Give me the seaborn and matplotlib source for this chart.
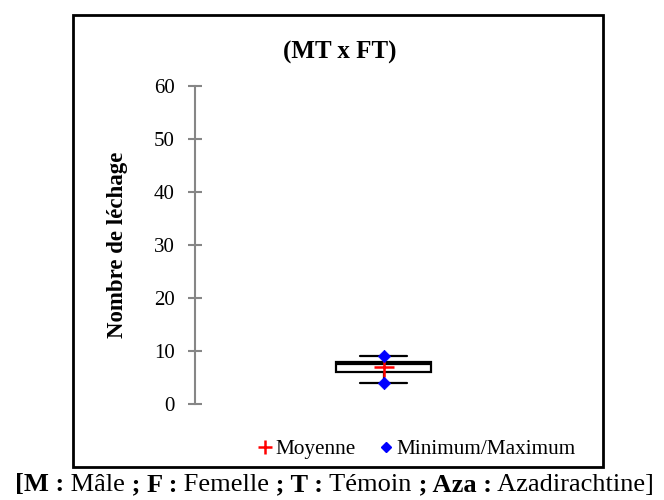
import matplotlib
matplotlib.use("Agg")
import numpy as np
import pandas as pd
import matplotlib.pyplot as plt
from matplotlib.lines import Line2D
from matplotlib.patches import Rectangle
import seaborn as sns

# one couple type, number of lickings per couple
cross = "MT x FT"
licking_counts = [4, 6, 6, 7, 8, 8, 8, 9]
y_ticks = [0, 10, 20, 30, 40, 50, 60]
legend_labels = ["Moyenne", "Minimum/Maximum"]
caption_parts = [("[M :", "bold"), (" Mâle", "normal"), (" ; F :", "bold"),
                 (" Femelle", "normal"), (" ; T :", "bold"), (" Témoin", "normal"),
                 (" ; Aza :", "bold"), (" Azadirachtine]", "normal")]

sns.set_theme(style="white")
plt.rcParams["font.family"] = ["Liberation Serif", "DejaVu Serif"]
plt.rcParams["text.color"] = "black"
plt.rcParams["axes.labelcolor"] = "black"

df = pd.DataFrame({"couple": cross, "count": licking_counts})

fig = plt.figure(figsize=(6.64, 5), dpi=100)
ax = fig.add_axes([195 / 664, 1 - 404 / 500, (572 - 195) / 664, 318 / 500])

sns.boxplot(data=df, x="couple", y="count", ax=ax, width=0.252, whis=(0, 100),
            color="white", linecolor="black", linewidth=1.6, fliersize=0)

mean_val = np.mean(licking_counts)
sns.scatterplot(x=[cross], y=[mean_val], ax=ax, marker="+", color="red",
                s=190, linewidth=1.8, zorder=5)
sns.scatterplot(x=[cross, cross], y=[min(licking_counts), max(licking_counts)], ax=ax,
                marker="D", color="blue", s=40, edgecolor="blue", zorder=6)

gray = "#868686"
ax.set_ylim(0, 60)
ax.set_yticks(y_ticks)
ax.set_xlim(-0.5, 0.5)
for side in ["top", "right", "bottom"]:
    ax.spines[side].set_visible(False)
ax.spines["left"].set_color(gray)
ax.spines["left"].set_linewidth(1.5)
ax.tick_params(axis="y", direction="inout", length=9.5, width=1.5, color=gray,
               labelsize=15, labelcolor="black", pad=10, left=True)
ax.tick_params(axis="x", bottom=False, labelbottom=False)
ax.set_xlabel("")
ax.set_ylabel("")

fig.text(118 / 664, 0.5 * (1 - 404 / 500) + 0.5 * (1 - 86 / 500), "Nombre de léchage",
         rotation=90, ha="center", va="center", fontsize=16.5, fontweight="bold")
fig.text(340 / 664, 1 - 52 / 500, "(MT x FT)", ha="center", va="center",
         fontsize=18, fontweight="bold")

handles = [Line2D([], [], marker="+", color="red", linestyle="none", markersize=10, markeredgewidth=1.8),
           Line2D([], [], marker="D", color="blue", linestyle="none", markersize=5)]
fig.legend(handles, legend_labels, loc="center", bbox_to_anchor=(416 / 664, 1 - 449 / 500),
           ncol=2, frameon=False, fontsize=15.3, handletextpad=0.1, columnspacing=1.0,
           handlelength=0.8)

fig.patches.append(Rectangle((73 / 664, 1 - 467 / 500), (603 - 73) / 664, (467 - 15) / 500,
                             transform=fig.transFigure, fill=False, lw=2, ec="black"))

# caption with mixed bold/normal pieces, centred under the frame
renderer = fig.canvas.get_renderer()
texts = []
x = 0
for s, w in caption_parts:
    t = fig.text(x, 1 - 491 / 500, s, fontweight=w, fontsize=19, va="baseline", ha="left")
    texts.append(t)
    x += t.get_window_extent(renderer).width / fig.bbox.width
shift = 334 / 664 - x / 2
for t in texts:
    t.set_x(t.get_position()[0] + shift)

fig.savefig("out.png", dpi=100)
